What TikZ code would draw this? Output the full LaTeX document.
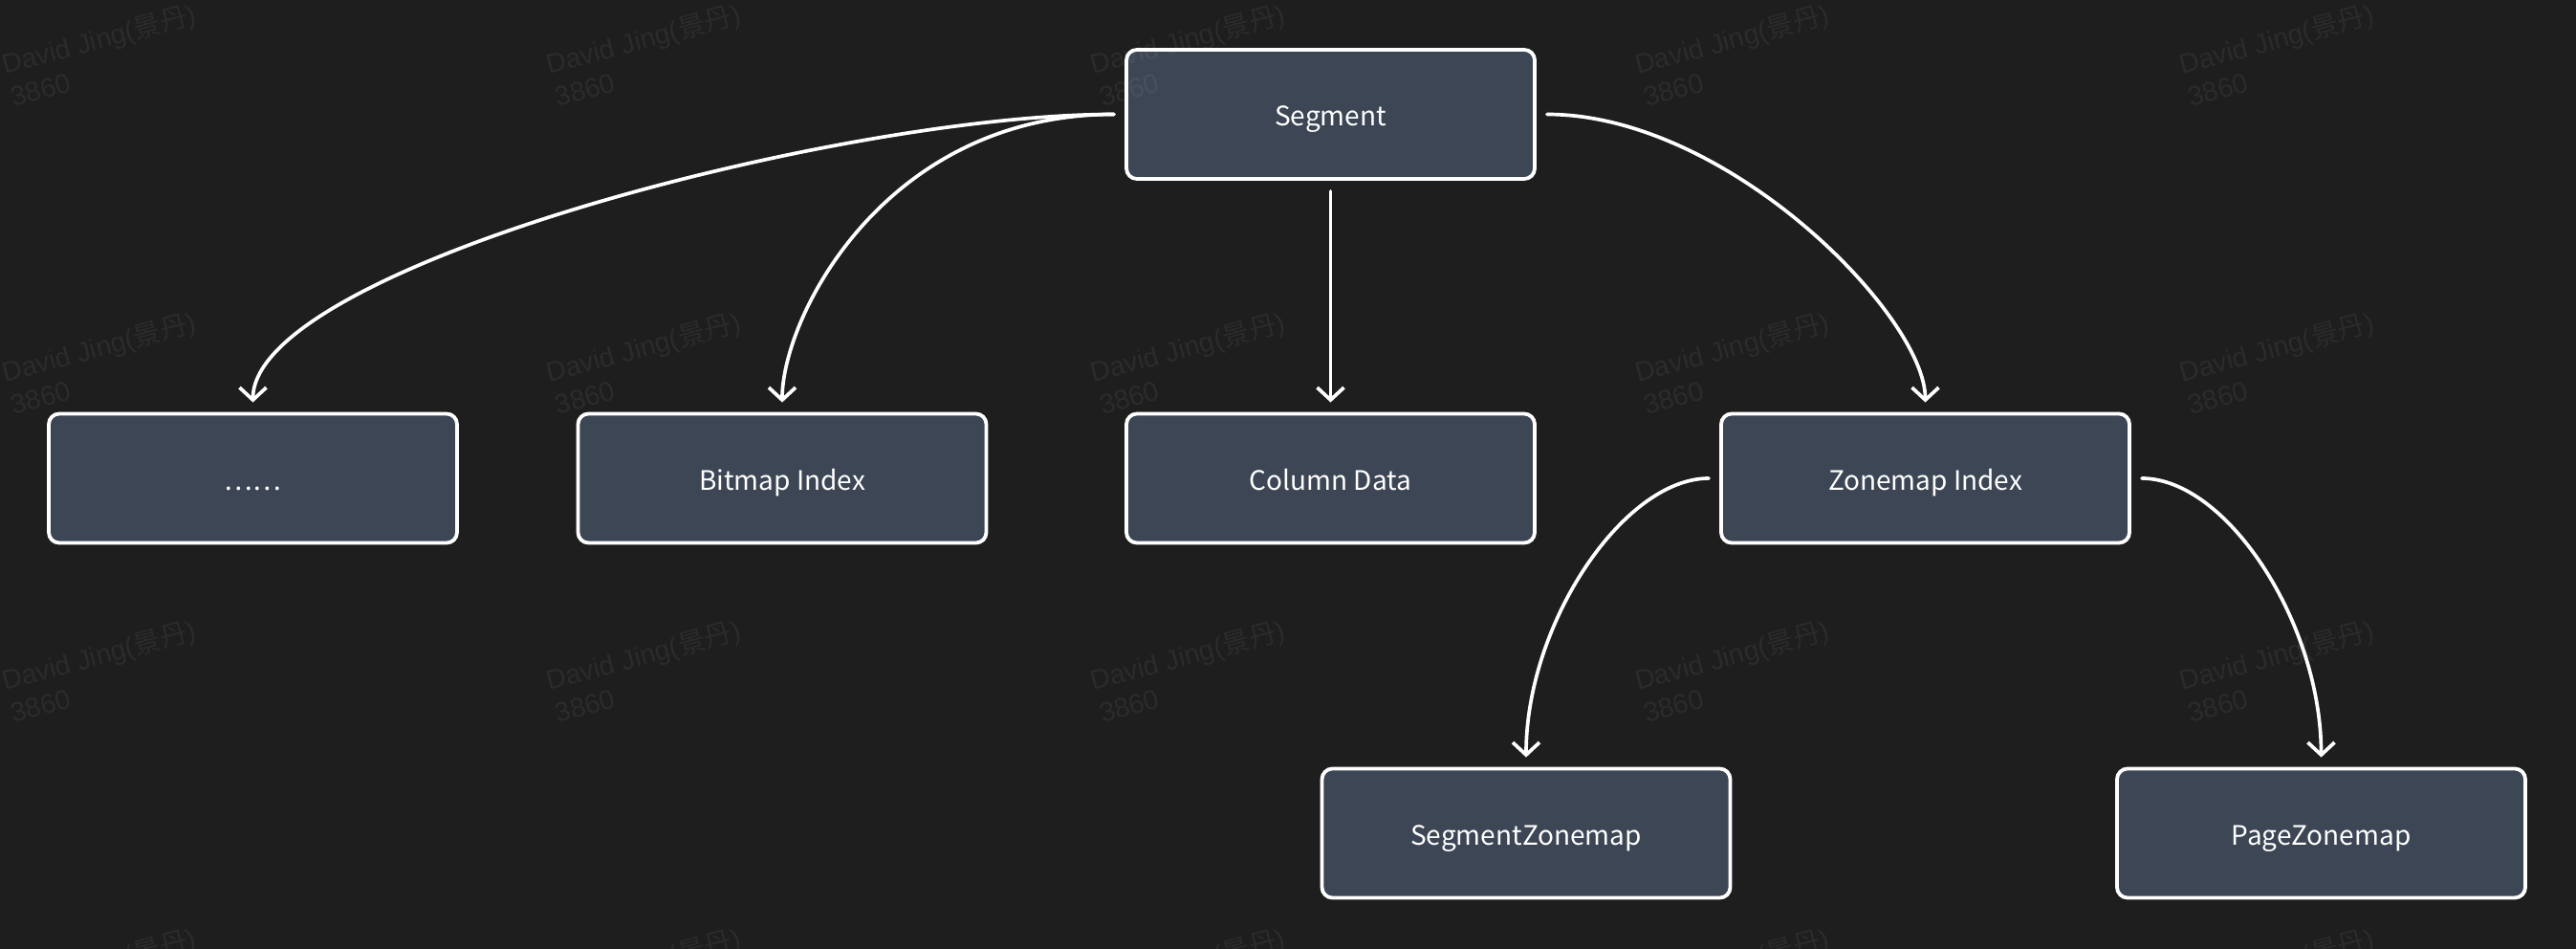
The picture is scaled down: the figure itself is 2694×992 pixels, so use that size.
\documentclass[tikz,border=0pt]{standalone}
\usepackage{fontspec}
\setmainfont{Noto Sans CJK SC}
\newfontfamily\wmfont{Liberation Sans}
\newfontfamily\cjkfont{Noto Sans CJK SC}
\usetikzlibrary{arrows.meta}
\definecolor{bgc}{HTML}{1E1E1E}
\definecolor{boxc}{HTML}{3D4655}
\tikzset{
  box/.style={draw=white, line width=3.8pt, fill=boxc, rounded corners=11pt,
    minimum width=427pt, minimum height=135pt, inner sep=0pt,
    text height=30pt, text depth=5pt,
    text=white, font=\fontsize{28}{32}\selectfont},
  conn/.style={draw=white, line width=3.7pt, line cap=round,
    -{Straight Barb[length=13pt,width=28pt,line width=3.7pt]},
    shorten <=11pt, shorten >=10pt},
  wmtext/.style={text=white, opacity=0.06, inner sep=0pt, anchor=base west,
    rotate=15, font=\wmfont\fontsize{28.5}{31}\selectfont}
}
\begin{document}
\begin{tikzpicture}[x=1pt,y=-1pt]
\useasboundingbox (0,0) rectangle (2694,992);
\fill[bgc] (0,0) rectangle (2694,992);

\node[box] (seg)    at (1391.5,119.5) {Segment};
\node[box] (dots)   at (264.5,500)   {……};
\node[box] (bitmap) at (818,500)     {Bitmap Index};
\node[box] (column) at (1391.5,500)  {Column Data};
\node[box] (zindex) at (2013.5,500)  {Zonemap Index};
\node[box] (szm)    at (1596,871)    {SegmentZonemap};
\node[box] (pzm)    at (2427.5,871)  {PageZonemap};

\draw[conn] (seg.west) .. controls +(-300,0) and +(0,-150) .. (dots.north);
\draw[conn] (seg.west) .. controls +(-250,0) and +(0,-100) .. (bitmap.north);
\draw[conn] (seg.south) -- (column.north);
\draw[conn] (seg.east) .. controls +(200,0) and +(0,-100) .. (zindex.north);
\draw[conn] (zindex.west) .. controls +(-100,0) and +(0,-150) .. (szm.north);
\draw[conn] (zindex.east) .. controls +(100,0) and +(0,-150) .. (pzm.north);

\foreach \i in {0,...,4}{
  \foreach \j in {0,...,3}{
    \node[wmtext] (wa\i\j) at (5+569.3*\i,78+322*\j) {David Jing({\cjkfont 景丹})};
    \node[wmtext] (wb\i\j) at (14.2+569.3*\i,112+322*\j) {3860};
  }
}
\end{tikzpicture}
\end{document}
